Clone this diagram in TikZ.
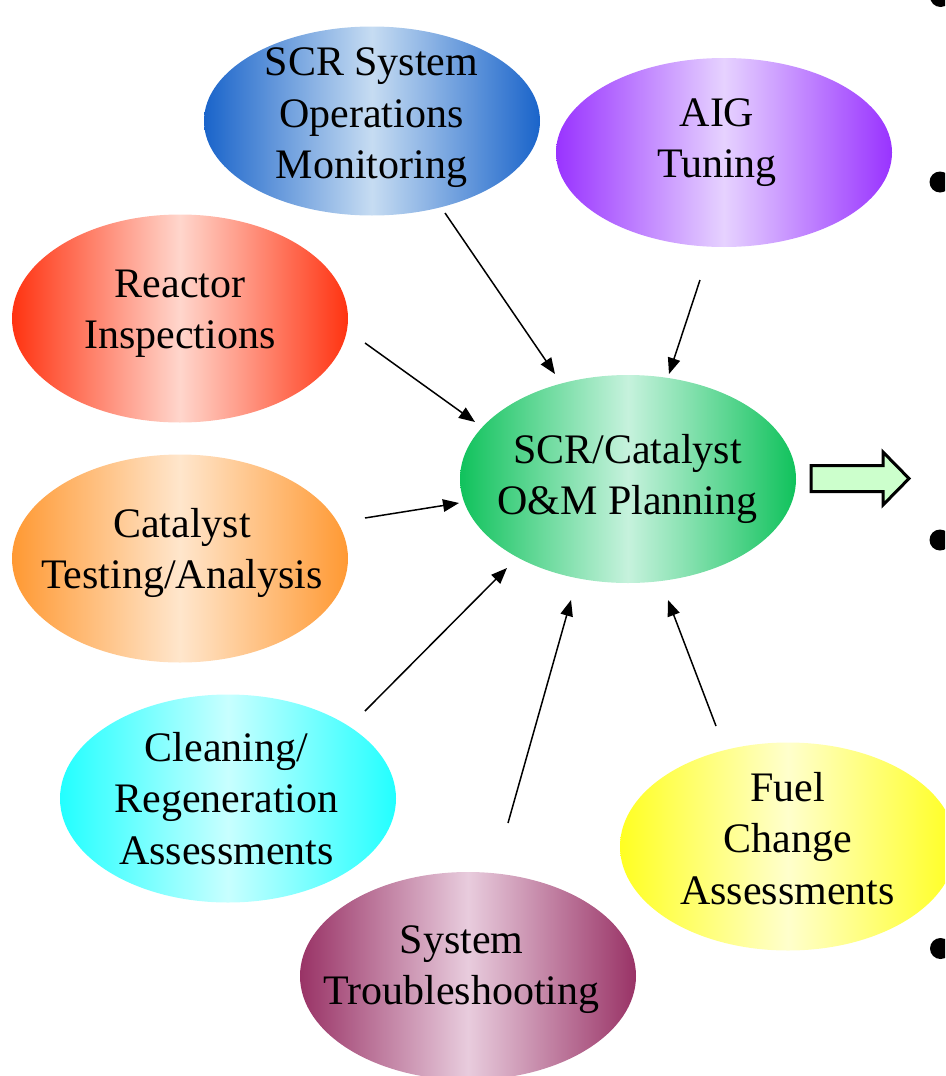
\documentclass[tikz,border=0pt]{standalone}
\usepackage{fontspec}
\setmainfont{Liberation Serif}
\usetikzlibrary{arrows.meta,shapes.geometric}

% edge / centre colours of the shaded ellipses
\definecolor{opsEdge}{HTML}{1A64CA}\definecolor{opsMid}{HTML}{C6DCF2}
\definecolor{aigEdge}{HTML}{9933FF}\definecolor{aigMid}{HTML}{E6D2FF}
\definecolor{reaEdge}{HTML}{FF3311}\definecolor{reaMid}{HTML}{FFD6CC}
\definecolor{catEdge}{HTML}{FF9933}\definecolor{catMid}{HTML}{FFE6CC}
\definecolor{plnEdge}{HTML}{10C25C}\definecolor{plnMid}{HTML}{C6F2DD}
\definecolor{clnEdge}{HTML}{22FFFF}\definecolor{clnMid}{HTML}{C8FFFF}
\definecolor{trbEdge}{HTML}{993366}\definecolor{trbMid}{HTML}{E8CCDD}
\definecolor{fuelEdge}{HTML}{FFFF22}\definecolor{fuelMid}{HTML}{FFFFCC}
\definecolor{arrowFill}{HTML}{CCFFCC}

\tikzset{
  blob/.style 2 args={ellipse, inner sep=0pt, minimum width=336pt,
    minimum height=208pt, left color=#1, right color=#1, middle color=#2},
  smallblob/.style={minimum height=189pt},
  lbl/.style={align=center, inner sep=0pt,
    font=\fontsize{42}{51.5}\selectfont},
  feed/.style={line width=1.5pt, -{Triangle[length=16pt,width=12.5pt]}},
  bullet/.style={circle, fill=black, inner sep=0pt, minimum size=21pt},
  bigarrow/.style={draw=black, line width=3pt, fill=arrowFill, miter limit=10}
}

\begin{document}
\begin{tikzpicture}[x=1pt,y=-1pt]
\useasboundingbox (0,0) rectangle (945,1076);
\clip (0,0) rectangle (945,1076);

% ellipses
\node[blob={opsEdge}{opsMid}, smallblob] (ops) at (372,121) {};
\node[blob={aigEdge}{aigMid}, smallblob] (aig) at (724,152.5) {};
\node[blob={reaEdge}{reaMid}] (rea) at (180,318.5) {};
\node[blob={catEdge}{catMid}] (cat) at (180,558.5) {};
\node[blob={plnEdge}{plnMid}] (pln) at (628,479) {};
\node[blob={clnEdge}{clnMid}] (cln) at (228,798.5) {};
\node[blob={trbEdge}{trbMid}] (trb) at (468,976) {};
\node[blob={fuelEdge}{fuelMid}] (fuel) at (788,846.5) {};

% labels
\node[lbl] (ops-t) at (371.5,117.8) {SCR System\\Operations\\Monitoring};
\node[lbl] (aig-t) at (717,142.8) {AIG\\Tuning};
\node[lbl] (rea-t) at (180,313.8) {Reactor\\Inspections};
\node[lbl] (cat-t) at (182,553) {Catalyst\\Testing/Analysis};
\node[lbl] (pln-t) at (627.5,479) {SCR/Catalyst\\O\&M Planning};
\node[lbl] (cln-t) at (226.5,798.5) {Cleaning/\\Regeneration\\Assessments};
\node[lbl] (trb-t) at (461.5,969.5) {System\\Troubleshooting};
\node[lbl] (fuel-t) at (787.5,838.5) {Fuel\\Change\\Assessments};

% connector end points
\coordinate (ops-o) at (445,213);  \coordinate (ops-i) at (555,374);
\coordinate (aig-o) at (700,280);  \coordinate (aig-i) at (669,374);
\coordinate (rea-o) at (365,343);  \coordinate (rea-i) at (475,422);
\coordinate (cat-o) at (365,518);  \coordinate (cat-i) at (459,503);
\coordinate (cln-o) at (365,711);  \coordinate (cln-i) at (507,568);
\coordinate (trb-o) at (508,823);  \coordinate (trb-i) at (571,600);
\coordinate (fuel-o) at (716,726); \coordinate (fuel-i) at (668,600);

\draw[feed] (ops-o) -- (ops-i);
\draw[feed] (aig-o) -- (aig-i);
\draw[feed] (rea-o) -- (rea-i);
\draw[feed] (cat-o) -- (cat-i);
\draw[feed] (cln-o) -- (cln-i);
\draw[feed] (trb-o) -- (trb-i);
\draw[feed] (fuel-o) -- (fuel-i);

% block arrow to the right of the planning ellipse
\draw[bigarrow] (811,465.5) -- (883,465.5) -- (883,452) -- (909,478.5)
  -- (883,505) -- (883,491.5) -- (811,491.5) -- cycle;

% list bullets at the right edge
\node[bullet] (b1) at (940.5,-3.5) {};
\node[bullet] (b2) at (940,182) {};
\node[bullet] (b3) at (940,540) {};
\node[bullet] (b4) at (940.5,948.5) {};
\end{tikzpicture}
\end{document}
